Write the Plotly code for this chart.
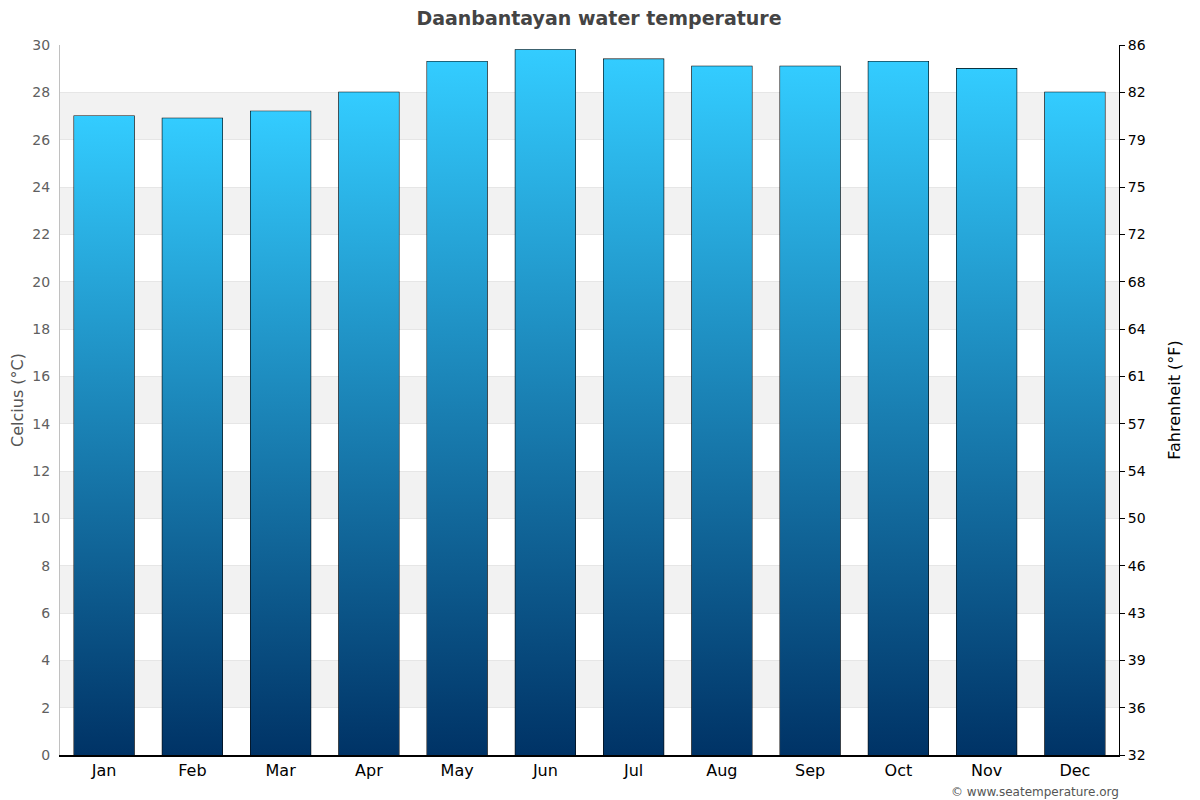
import plotly.graph_objects as go

months = ["Jan", "Feb", "Mar", "Apr", "May", "Jun", "Jul", "Aug", "Sep", "Oct", "Nov", "Dec"]
temps_c = [27.0, 26.9, 27.2, 28.0, 29.3, 29.8, 29.4, 29.1, 29.1, 29.3, 29.0, 28.0]
c_ticks = list(range(0, 31, 2))
f_tick_text = [str(int(round(c * 1.8 + 32))) for c in c_ticks]

BAR_W = 0.68
FONT = "DejaVu Sans"

fig = go.Figure()

# gradient-filled bars (one filled shape per month, derived from the data)
for i, v in enumerate(temps_c):
    x0, x1 = i - BAR_W / 2, i + BAR_W / 2
    fig.add_trace(go.Scatter(
        x=[x0, x1, x1, x0, x0], y=[0, 0, v, v, 0],
        mode="lines", line=dict(width=0), fill="toself",
        fillgradient=dict(type="vertical",
                          colorscale=[[0, "#003366"], [1, "#33ccff"]]),
        hoverinfo="skip", showlegend=False,
    ))

# outline bars
fig.add_trace(go.Bar(
    x=list(range(len(months))), y=temps_c, width=BAR_W,
    marker=dict(color="rgba(0,0,0,0)", line=dict(color="#000000", width=1.2)),
    hovertext=[f"{m}: {t} °C" for m, t in zip(months, temps_c)],
    hoverinfo="text", showlegend=False,
))

# dummy trace for secondary axis
fig.add_trace(go.Scatter(x=[None], y=[None], yaxis="y2", showlegend=False, hoverinfo="skip"))

shapes = []
for c in range(2, 30, 4):
    shapes.append(dict(type="rect", xref="paper", x0=0, x1=1, yref="y", y0=c, y1=c + 2,
                       fillcolor="#f2f2f2", line=dict(width=0), layer="below"))

fig.update_layout(
    width=1192, height=792,
    margin=dict(l=52, r=81, t=37, b=45, autoexpand=False),
    paper_bgcolor="white", plot_bgcolor="white",
    font=dict(family=FONT, color="#333"),
    title=dict(text="<b>Daanbantayan water temperature</b>", x=591 / 1192, xanchor="center",
               y=1 - 10 / 792, yanchor="middle", font=dict(size=19, color="#444444", family=FONT)),
    shapes=shapes,
    xaxis=dict(range=[-0.5, 11.5], tickvals=list(range(12)), ticktext=months,
               showgrid=False, zeroline=False, showline=True, linecolor="#000000", linewidth=2,
               ticks="", tickfont=dict(size=16, color="#000000", family=FONT), fixedrange=True),
    yaxis=dict(range=[0, 30], tickvals=c_ticks, showgrid=True, gridcolor="#e6e6e6",
               zeroline=False, showline=True, linecolor="#c0c0c0", linewidth=1, ticks="",
               ticklabelstandoff=6,
               tickfont=dict(size=14, color="#606060", family=FONT),
               title=dict(text="Celcius (°C)", font=dict(size=16, color="#555555", family=FONT),
                          standoff=4)),
    yaxis2=dict(range=[32, 86], overlaying="y", side="right",
                tickvals=[c * 1.8 + 32 for c in c_ticks], ticktext=f_tick_text,
                showgrid=False, zeroline=False, showline=True, linecolor="#000000", linewidth=1,
                ticks="outside", ticklen=5, tickcolor="#000000",
                tickfont=dict(size=14, color="#000000", family=FONT),
                title=dict(text="Fahrenheit (°F)", font=dict(size=16, color="#000000", family=FONT),
                           standoff=24)),
    annotations=[dict(text="© www.seatemperature.org", xref="paper", yref="paper",
                      x=1, y=0, xanchor="right", yanchor="middle", yshift=-37, xshift=2,
                      showarrow=False, font=dict(size=12, color="#555555", family=FONT))],
)

fig.write_html("out.html")
